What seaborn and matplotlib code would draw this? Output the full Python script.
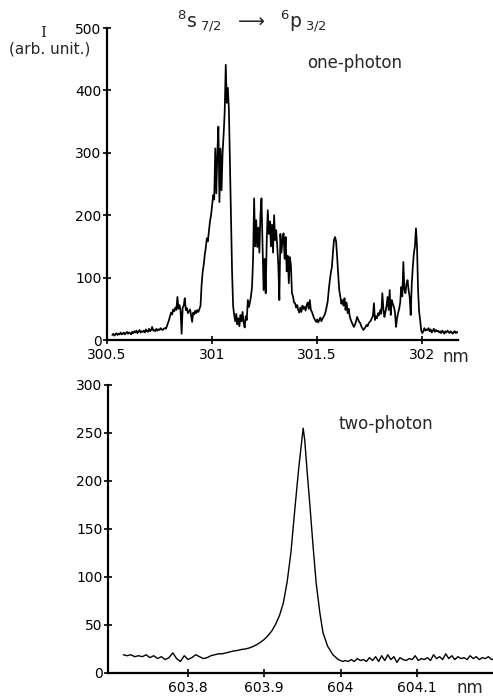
import numpy as np
import pandas as pd
import matplotlib
matplotlib.use("Agg")
import matplotlib.pyplot as plt
import seaborn as sns

# ---------------- data ----------------
# one-photon spectrum: wavelength grid 300.525 .. 302.170 nm, 0.005 nm sampling
one_start = 300.525
one_step = 0.005
one_intensity = [
    8, 10, 7, 9, 11, 8, 10, 9, 12, 9,
    10, 12, 9, 11, 13, 10, 12, 11, 9, 13,
    11, 14, 12, 15, 11, 13, 16, 12, 14, 13,
    15, 12, 17, 14, 13, 18, 14, 16, 21, 15,
    16, 14, 18, 15, 17, 16, 19, 17, 16, 18,
    19, 18, 22, 27, 32, 38, 44, 41, 49, 46,
    52, 48, 69, 50, 56, 47, 10, 52, 55, 67,
    48, 51, 43, 46, 49, 40, 29, 44, 41, 47,
    43, 48, 45, 50, 55, 88, 109, 120, 136, 148,
    163, 158, 175, 190, 200, 215, 232, 225, 307, 235,
    300, 342, 221, 307, 240, 300, 330, 366, 441, 380,
    404, 369, 280, 200, 110, 55, 40, 30, 42, 25,
    35, 22, 40, 30, 45, 28, 20, 38, 32, 64,
    53, 60, 70, 85, 130, 227, 150, 192, 149, 180,
    140, 200, 227, 150, 80, 130, 75, 160, 208, 170,
    190, 150, 185, 140, 200, 160, 176, 150, 120, 64,
    170, 140, 160, 171, 130, 165, 110, 135, 91, 133,
    120, 75, 70, 60, 59, 52, 56, 48, 44, 52,
    45, 55, 50, 53, 47, 56, 60, 50, 64, 48,
    45, 40, 35, 32, 29, 33, 28, 32, 36, 30,
    34, 37, 40, 45, 53, 62, 80, 95, 108, 117,
    140, 160, 165, 158, 133, 105, 80, 70, 58, 64,
    55, 67, 48, 60, 43, 50, 38, 32, 28, 24,
    21, 25, 30, 37, 33, 29, 27, 22, 19, 16,
    18, 21, 24, 22, 27, 29, 31, 35, 38, 59,
    32, 38, 35, 43, 40, 48, 42, 75, 50, 37,
    45, 55, 69, 48, 80, 40, 64, 58, 53, 45,
    21, 35, 43, 50, 60, 85, 70, 125, 80, 75,
    90, 96, 80, 69, 40, 90, 117, 139, 150, 179,
    150, 80, 45, 32, 15, 11, 14, 19, 15, 17,
    16, 19, 14, 17, 12, 15, 18, 13, 16, 14,
    15, 12, 14, 11, 15, 13, 10, 14, 12, 15,
    13, 11, 14, 12, 10, 13, 14, 11, 13, 12,
]

# two-photon spectrum
two_wavelength = [
    603.715, 603.720, 603.725, 603.730, 603.735, 603.740, 603.745, 603.750,
    603.755, 603.760, 603.765, 603.770, 603.775, 603.780, 603.785, 603.790,
    603.795, 603.800, 603.805, 603.810, 603.815, 603.820, 603.825, 603.830,
    603.835, 603.840, 603.845, 603.850, 603.855, 603.860, 603.865, 603.870,
    603.875, 603.880, 603.885, 603.890, 603.895, 603.900, 603.905, 603.910,
    603.915, 603.920, 603.925, 603.930, 603.935, 603.940, 603.945, 603.950,
    603.951, 603.953, 603.956, 603.960, 603.964, 603.968, 603.973, 603.977,
    603.983, 603.990, 603.997, 604.003,
    604.006, 604.010, 604.014, 604.018, 604.022, 604.026, 604.030, 604.034,
    604.038, 604.042, 604.046, 604.050, 604.054, 604.058, 604.062, 604.066,
    604.070, 604.074, 604.078, 604.082, 604.086, 604.090, 604.094, 604.098,
    604.102, 604.106, 604.110, 604.114, 604.118, 604.122, 604.126, 604.130,
    604.134, 604.138, 604.142, 604.146, 604.150, 604.154, 604.158, 604.162,
    604.166, 604.170, 604.174, 604.178, 604.182, 604.186, 604.190, 604.194,
    604.198, 604.202,
]
two_intensity = [
    19, 18, 19, 17, 18, 17, 19, 16,
    18, 15, 17, 14, 16, 21, 15, 12,
    18, 14, 16, 19, 17, 15, 16, 18,
    19, 20, 20, 21, 22, 23, 23.5, 24.5,
    25, 26, 27.5, 29.5, 32, 35, 39, 44,
    51, 60, 73, 95, 126, 170, 212, 248,
    255, 243, 212, 173, 132, 94, 62, 42,
    28, 19, 14, 12,
    13, 12, 14, 12, 15, 13, 14, 12,
    16, 13, 17, 12, 18, 13, 19, 14,
    17, 11, 16, 14, 13, 15, 14, 18,
    13, 15, 14, 16, 13, 19, 15, 17,
    14, 20, 15, 18, 14, 17, 15, 16,
    14, 18, 15, 17, 14, 16, 15, 17,
    14, 15,
]

one_ticks = [300.5, 301, 301.5, 302]
one_ticklabels = ["300.5", "301", "301.5", "302"]
one_yticks = [0, 100, 200, 300, 400, 500]
two_ticks = [603.8, 603.9, 604.0, 604.1]
two_ticklabels = ["603.8", "603.9", "604", "604.1"]
two_yticks = [0, 50, 100, 150, 200, 250, 300]

one_wavelength = [round(one_start + one_step * i, 4) for i in range(len(one_intensity))]
df1 = pd.DataFrame({"wl": one_wavelength, "I": one_intensity})
df2 = pd.DataFrame({"wl": two_wavelength, "I": two_intensity})

# ---------------- figure ----------------
sns.set_style("ticks")
plt.rcParams["font.family"] = ["DejaVu Sans"]
W, H = 493, 698
fig = plt.figure(figsize=(W / 100, H / 100), dpi=100)

ax1 = fig.add_axes([107 / W, 1 - 340 / H, (458 - 107) / W, (340 - 28) / H])
ax2 = fig.add_axes([108 / W, 1 - 673 / H, (493 - 108) / W, (673 - 385) / H])

sns.lineplot(data=df1, x="wl", y="I", ax=ax1, color="black", lw=1.25, sort=False)
sns.lineplot(data=df2, x="wl", y="I", ax=ax2, color="black", lw=1.0, sort=False)

ax1.set_xlim(300.5, 302.17)
ax1.set_ylim(0, 500)
ax2.set_xlim(603.695, 604.2)
ax2.set_ylim(0, 300)

ax1.set_xticks(one_ticks)
ax1.set_xticklabels(one_ticklabels)
ax1.set_yticks(one_yticks)
ax2.set_xticks(two_ticks)
ax2.set_xticklabels(two_ticklabels)
ax2.set_yticks(two_yticks)

for ax in (ax1, ax2):
    ax.set_xlabel("")
    ax.set_ylabel("")
    for s in ("top", "right"):
        ax.spines[s].set_visible(False)
    for s in ("left", "bottom"):
        ax.spines[s].set_linewidth(1.6)
        ax.spines[s].set_color("black")
    ax.tick_params(axis="both", direction="inout", length=6, width=1.2,
                   colors="black", labelsize=10)
    ax.tick_params(axis="x", pad=3)
    ax.tick_params(axis="y", pad=1)
    ax.patch.set_alpha(0)

fig.text(43 / W, 1 - 33 / H, "I", ha="center", va="center", fontsize=11,
         family=["DejaVu Serif"])
fig.text(50 / W, 1 - 49 / H, "(arb. unit.)", ha="center", va="center", fontsize=11)
fig.text(252 / W, 1 - 22 / H,
         r"$^{8}\mathrm{s}_{\ 7/2}\ \ \longrightarrow\ \ ^{6}\mathrm{p}_{\ 3/2}$",
         ha="center", va="center", fontsize=13.5)
fig.text(355 / W, 1 - 63 / H, "one-photon", ha="center", va="center", fontsize=12)
fig.text(386 / W, 1 - 424 / H, "two-photon", ha="center", va="center", fontsize=12)
fig.text(456 / W, 1 - 357 / H, "nm", ha="center", va="center", fontsize=12)
fig.text(470 / W, 1 - 688 / H, "nm", ha="center", va="center", fontsize=12)

fig.savefig("out.png", dpi=100, facecolor="white")
